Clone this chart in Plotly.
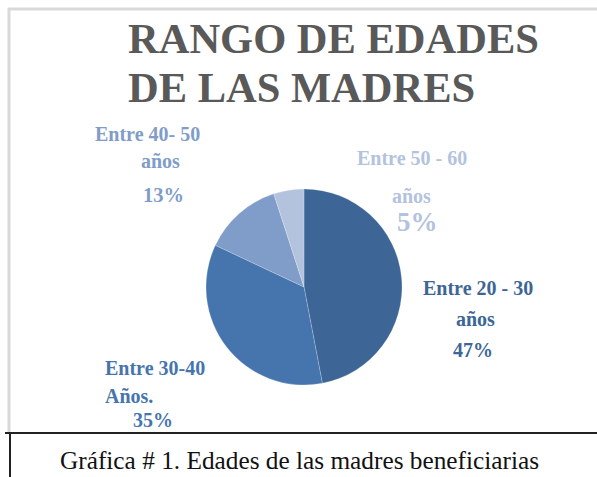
import plotly.graph_objects as go

# ---- data ----
categories = ["Entre 20 - 30 años", "Entre 30-40 Años.", "Entre 40- 50 años", "Entre 50 - 60 años"]
values = [47, 35, 13, 5]
label_line1 = ["Entre 20 - 30", "Entre 30-40", "Entre 40- 50", "Entre 50 - 60"]
label_line2 = ["años", "Años.", "años", "años"]
colors = ["#3D6696", "#4675AE", "#7F9DC8", "#B3C3DE"]
title_lines = ["RANGO DE EDADES", "DE LAS MADRES"]
caption = "Gráfica # 1. Edades de las madres beneficiarias"

W, H = 597, 477


def px(x):
    return x / W


def py(y):
    return 1 - y / H


SERIF = "Liberation Serif, Times New Roman, serif"

fig = go.Figure()
cx, cy, r = 304, 287, 98
fig.add_trace(go.Pie(
    labels=categories,
    values=values,
    sort=False,
    direction="clockwise",
    rotation=0,
    marker=dict(colors=colors, line=dict(color="rgba(255,255,255,0.4)", width=0.5)),
    textinfo="none",
    hoverinfo="label+percent",
    showlegend=False,
    domain=dict(x=[px(cx - r), px(cx + r)], y=[py(cy + r), py(cy - r)]),
))

annotations = []


def add_text(text, x, baseline, size, color, bold=True, xanchor="center", family=SERIF):
    # place by baseline: approximate vertical center of caps
    yc = baseline - 0.34 * size
    t = f"<b>{text}</b>" if bold else text
    annotations.append(dict(
        text=t, x=px(x), y=py(yc), xref="paper", yref="paper",
        xanchor=xanchor, yanchor="middle", showarrow=False,
        font=dict(family=family, size=size, color=color),
    ))


# title
add_text(title_lines[0], 126, 53, 42.5, "#595959", xanchor="left")
add_text(title_lines[1], 126, 102, 42.5, "#595959", xanchor="left")

# slice labels: (line1 x, line1 baseline, line2 x, line2 baseline, pct x, pct baseline, pct size, anchor)
pos = [
    (478, 295, 475, 326, 473, 357, 20, "center"),
    (103, 375, 103, 403, 153, 427, 20, "left"),
    (147, 141, 160, 168, 163, 202, 20.5, "center"),
    (412, 165, 411, 203, 417, 231, 27, "center"),
]
for i, (x1, b1, x2, b2, x3, b3, ps, anc) in enumerate(pos):
    add_text(label_line1[i], x1, b1, 20, colors[i], xanchor=anc)
    add_text(label_line2[i], x2, b2, 20, colors[i], xanchor=anc)
    add_text(f"{values[i]}%", x3, b3, ps, colors[i], xanchor="center")

# caption
add_text(caption, 299, 469, 25.3, "#111111", bold=False)

shapes = [
    dict(type="line", xref="paper", yref="paper", x0=px(8), x1=px(597), y0=py(9), y1=py(9),
         line=dict(color="#D9D9D9", width=3)),
    dict(type="line", xref="paper", yref="paper", x0=px(9), x1=px(9), y0=py(8), y1=py(432),
         line=dict(color="#D9D9D9", width=3)),
    dict(type="line", xref="paper", yref="paper", x0=px(5), x1=px(597), y0=py(433), y1=py(433),
         line=dict(color="#222222", width=2)),
    dict(type="line", xref="paper", yref="paper", x0=px(10), x1=px(10), y0=py(433), y1=py(477),
         line=dict(color="#222222", width=2)),
]

fig.update_layout(
    width=W, height=H,
    margin=dict(l=0, r=0, t=0, b=0),
    paper_bgcolor="white", plot_bgcolor="white",
    annotations=annotations,
    shapes=shapes,
)

fig.write_html("out.html", config={"displayModeBar": False},
               post_script="document.body.style.margin='0';document.body.style.overflow='hidden';")
